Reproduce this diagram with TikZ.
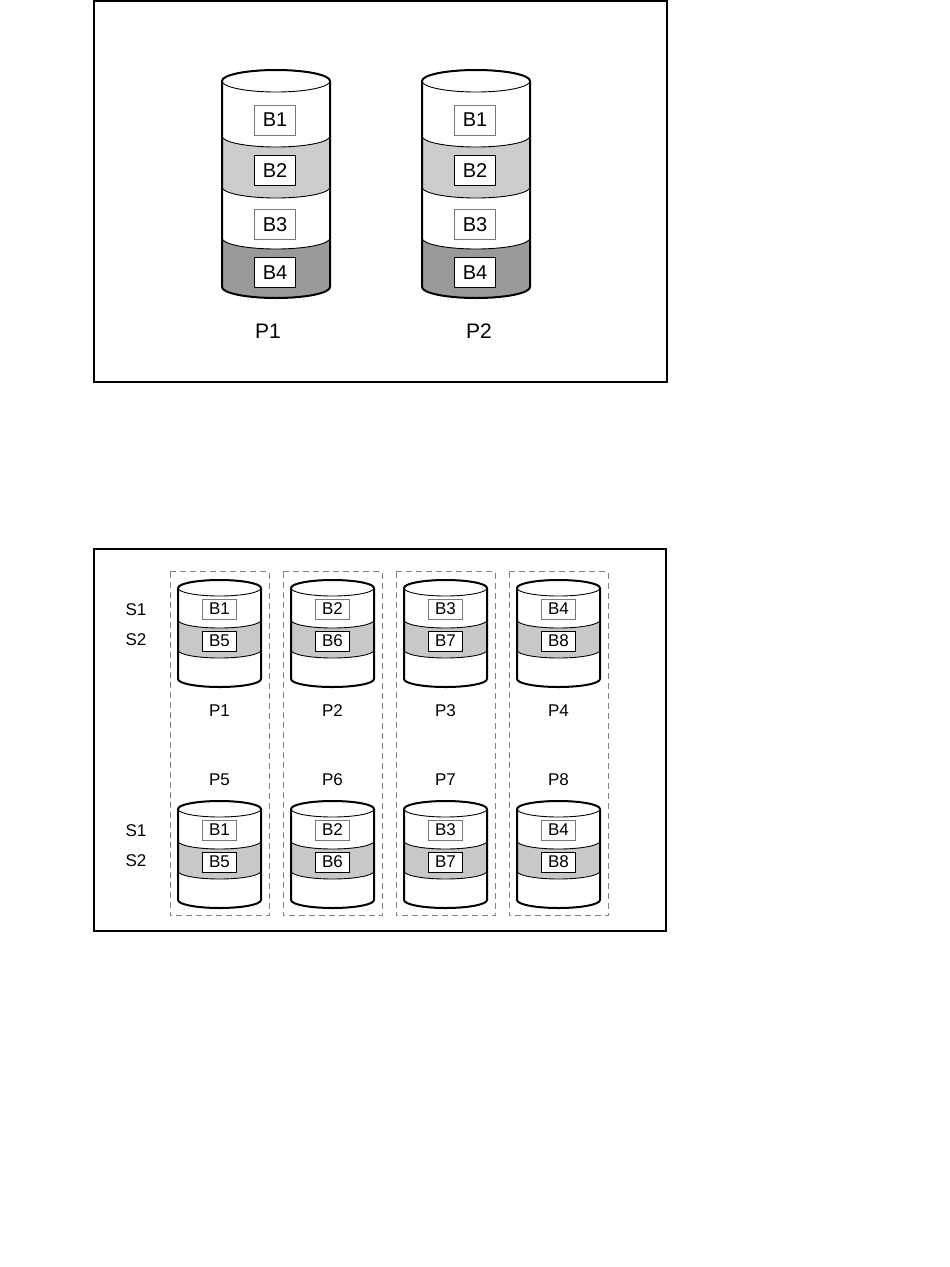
\documentclass[tikz,border=0pt]{standalone}
\usepackage{fontspec}
\setmainfont{Liberation Sans}
\definecolor{lightband}{RGB}{204,204,204}
\definecolor{darkband}{RGB}{153,153,153}
\definecolor{sband}{RGB}{200,200,200}
\definecolor{dashgray}{RGB}{130,130,130}
\definecolor{boxgray}{RGB}{120,120,120}
\begin{document}
\begin{tikzpicture}[x=1pt,y=1pt,
  thinline/.style={line width=0.9pt},
  outline/.style={line width=2pt},
  frameline/.style={line width=2pt},
  dashrect/.style={draw=dashgray, line width=1pt, dash pattern=on 6pt off 4pt},
  bigbox/.style={draw, fill=white, line width=0.8pt, minimum width=41pt, minimum height=30pt, inner sep=0pt, font=\fontsize{20}{20}\selectfont},
  smallbox/.style={draw, fill=white, line width=0.8pt, minimum width=34pt, minimum height=20pt, inner sep=0pt, font=\fontsize{17}{17}\selectfont},
  biglabel/.style={inner sep=0pt, font=\fontsize{21}{21}\selectfont},
  smalllabel/.style={inner sep=0pt, font=\fontsize{17}{17}\selectfont}
]
\fill[white] (0,0) rectangle (950,-1267);
\useasboundingbox (0,0) rectangle (950,-1267);

% ---------- top frame ----------
\draw[frameline] (93.5,-1) rectangle (666.5,-382);

\foreach \cx/\pn/\lx in {276/1/268, 476/2/479}{
  \foreach \ya/\yb/\col in {81/136/white, 136/187/lightband, 187/238/white, 238/287/darkband}
    \fill[\col] (\cx-54,-\ya) arc[start angle=180,end angle=360,x radius=54,y radius=11]
      -- (\cx+54,-\yb) arc[start angle=0,end angle=-180,x radius=54,y radius=11] -- cycle;
  \fill[white] (\cx,-81) ellipse[x radius=54,y radius=11];
  \foreach \yy in {136,187,238}
    \draw[thinline] (\cx-54,-\yy) arc[start angle=180,end angle=360,x radius=54,y radius=11];
  \draw[thinline] (\cx,-81) ellipse[x radius=54,y radius=11];
  \draw[outline] (\cx-54,-81) arc[start angle=180,end angle=0,x radius=54,y radius=11];
  \draw[outline, line join=round] (\cx-54,-81) -- (\cx-54,-287)
     arc[start angle=180,end angle=360,x radius=54,y radius=11] -- (\cx+54,-81);
  \node[bigbox, draw=boxgray] (t\pn-b1) at (\cx-1,-120) {B1};
  \node[bigbox, draw=black]   (t\pn-b2) at (\cx-1,-170.5) {B2};
  \node[bigbox, draw=boxgray] (t\pn-b3) at (\cx-1,-224.5) {B3};
  \node[bigbox, draw=black]   (t\pn-b4) at (\cx-1,-272.5) {B4};
  \node[biglabel] (t\pn-p) at (\lx,-331) {P\pn};
}

% ---------- bottom frame ----------
\draw[frameline] (93.5,-549) rectangle (665.7,-931);

\foreach \rx in {170,283,396,509}
  \draw[dashrect] (\rx,-571.7) rectangle (\rx+99,-915.7);

\foreach \off/\row in {0/1, 221/2}{
  \node[smalllabel] (s1-\row) at (136,-610-\off) {S1};
  \node[smalllabel] (s2-\row) at (136,-640-\off) {S2};
  \foreach \cx/\k in {219.5/1, 332.5/2, 445.5/3, 558.5/4}{
    \pgfmathtruncatemacro\kk{\k+4}
    \foreach \ya/\yb/\col in {588/620/white, 620/650/sband, 650/679/white}
      \fill[\col] (\cx-41.5,-\ya-\off) arc[start angle=180,end angle=360,x radius=41.5,y radius=8]
        -- (\cx+41.5,-\yb-\off) arc[start angle=0,end angle=-180,x radius=41.5,y radius=8] -- cycle;
    \fill[white] (\cx,-588-\off) ellipse[x radius=41.5,y radius=8];
    \foreach \yy in {620,650}
      \draw[thinline] (\cx-41.5,-\yy-\off) arc[start angle=180,end angle=360,x radius=41.5,y radius=8];
    \draw[thinline] (\cx,-588-\off) ellipse[x radius=41.5,y radius=8];
    \draw[outline] (\cx-41.5,-588-\off) arc[start angle=180,end angle=0,x radius=41.5,y radius=8];
    \draw[outline, line join=round] (\cx-41.5,-588-\off) -- (\cx-41.5,-679-\off)
       arc[start angle=180,end angle=360,x radius=41.5,y radius=8] -- (\cx+41.5,-588-\off);
    \node[smallbox, draw=boxgray] (r\row c\k-a) at (\cx,-609-\off) {B\k};
    \node[smallbox, draw=black]   (r\row c\k-b) at (\cx,-641-\off) {B\kk};
  }
}
\foreach \cx/\k in {219.5/1, 332.5/2, 445.5/3, 558.5/4}{
  \pgfmathtruncatemacro\kk{\k+4}
  \node[smalllabel] (pu\k) at (\cx,-711) {P\k};
  \node[smalllabel] (pl\k) at (\cx,-780) {P\kk};
}
\end{tikzpicture}
\end{document}
